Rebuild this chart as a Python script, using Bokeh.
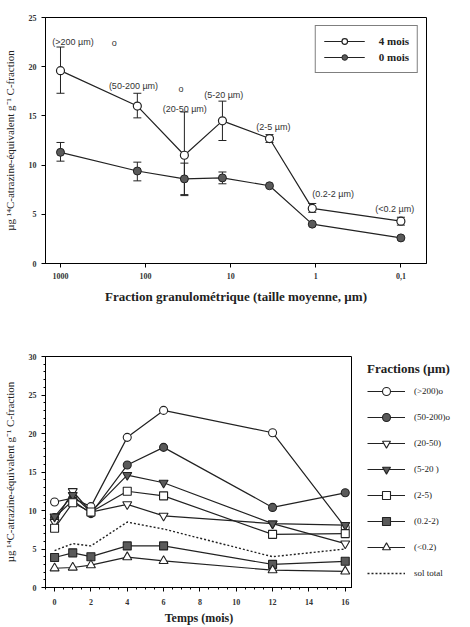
from bokeh.plotting import figure
from bokeh.models import (Range1d, FixedTicker, Whisker, TeeHead, ColumnDataSource,
                          Legend, LegendItem)
from bokeh.layouts import row
from bokeh.embed import file_html
from bokeh.resources import INLINE
from bokeh.core.properties import value

SERIF = "Liberation Serif"
SANS = "Liberation Sans"
INK = "#222222"
FILL = "#5a5a5a"

# ---------------- top chart data ----------------
sizes = [1000, 125, 35, 12.5, 3.5, 1.1, 0.1]
size_ticks = [1000, 100, 10, 1, 0.1]
size_tick_labels = ["1000", "100", "10", "1", "0,1"]

m4 = [19.6, 16.0, 11.0, 14.5, 12.7, 5.6, 4.3]
m4_lo = [17.3, 14.8, 7.0, 12.5, 12.3, 5.2, 3.9]
m4_hi = [22.0, 17.3, 15.4, 16.5, 13.1, 6.1, 4.7]

m0 = [11.3, 9.4, 8.6, 8.7, 7.9, 4.0, 2.6]
m0_err_x = [1000, 125, 35, 12.5]
m0_lo = [10.4, 8.4, 6.9, 8.1]
m0_hi = [12.3, 10.3, 10.2, 9.3]

ann_text = ["(>200 µm)", "o", "(50-200 µm)", "o", "(20-50 µm)", "(5-20 µm)",
            "(2-5 µm)", "(0.2-2 µm)", "(<0.2 µm)"]
ann_x = [1250, 250, 270, 41, 63, 20.5, 5.0, 1.1, 0.2]
ann_y = [22.5, 22.4, 18.0, 17.7, 15.7, 17.1, 13.9, 7.1, 5.5]

# ---------------- bottom chart data ----------------
months = [0, 1, 2, 4, 6, 12, 16]
month_ticks = [0, 2, 4, 6, 8, 10, 12, 14, 16]
conc_ticks = [0, 5, 10, 15, 20, 25, 30]

f_gt200 = [11.1, 11.6, 10.5, 19.5, 23.0, 20.1, 7.8]
f_50_200 = [9.1, 11.3, 9.6, 15.9, 18.2, 10.4, 12.3]
f_20_50 = [8.5, 12.5, 9.8, 10.8, 9.3, 8.3, 5.7]
f_5_20 = [9.2, 12.0, 9.8, 14.6, 13.6, 8.3, 8.1]
f_2_5 = [7.7, 11.0, 9.8, 12.5, 11.9, 6.9, 7.0]
f_02_2 = [3.9, 4.5, 4.0, 5.4, 5.4, 3.0, 3.4]
f_lt02 = [2.5, 2.6, 2.9, 3.95, 3.45, 2.25, 2.1]
sol_total = [4.8, 5.7, 5.4, 8.5, 7.6, 4.0, 5.0]

fraction_labels = ["(>200)o", "(50-200)o", "(20-50)", "(5-20 )", "(2-5)",
                   "(0.2-2)", "(<0.2)", "sol total"]

ylab = "µg ¹⁴C-atrazine-équivalent g⁻¹ C-fraction"


def style_axes(p, minor=False):
    p.outline_line_color = "black"
    p.outline_line_width = 1
    p.xgrid.visible = False
    p.ygrid.visible = False
    for ax in (p.xaxis[0], p.yaxis[0]):
        ax.axis_line_color = "black"
        ax.major_tick_line_color = "black"
        ax.major_tick_in = 0
        ax.major_tick_out = 4
        ax.major_label_text_font = SERIF
        ax.major_label_text_font_size = "8px"
        ax.major_label_text_font_style = "bold"
        ax.major_label_text_color = "#333333"
        ax.axis_label_text_font = SERIF
        ax.axis_label_text_font_style = "bold"
        ax.axis_label_text_color = "#222222"
        if minor:
            ax.minor_tick_line_color = "black"
            ax.minor_tick_in = 0
            ax.minor_tick_out = 2
        else:
            ax.minor_tick_line_color = None
    p.yaxis[0].axis_label_text_font_size = "11px"
    p.yaxis[0].axis_label_text_font_style = "normal"
    p.xaxis[0].axis_label_text_font_size = "13px"


# ---------------- top figure ----------------
p1 = figure(width=454, height=306, x_axis_type="log",
            x_range=Range1d(1500, 0.05), y_range=Range1d(0, 25),
            output_backend="svg", toolbar_location=None,
            min_border_left=41, min_border_right=28, min_border_top=17,
            min_border_bottom=43)
style_axes(p1)
p1.xaxis[0].ticker = FixedTicker(ticks=size_ticks)
p1.xaxis[0].major_label_overrides = {t: l for t, l in zip(size_ticks, size_tick_labels)}
p1.yaxis[0].ticker = FixedTicker(ticks=[0, 5, 10, 15, 20, 25])
p1.xaxis[0].axis_label = "Fraction granulométrique (taille moyenne, µm)"
p1.yaxis[0].axis_label = ylab
p1.xaxis[0].major_label_standoff = 5
p1.xaxis[0].axis_label_standoff = 7
p1.yaxis[0].axis_label_standoff = 10

src4 = ColumnDataSource(dict(x=sizes, y=m4, lo=m4_lo, hi=m4_hi))
src0 = ColumnDataSource(dict(x=sizes, y=m0))
src0e = ColumnDataSource(dict(x=m0_err_x, lo=m0_lo, hi=m0_hi))

for src in (src4, src0e):
    w = Whisker(source=src, base="x", lower="lo", upper="hi", line_color=INK,
                line_width=1,
                upper_head=TeeHead(size=8, line_color=INK, line_width=1),
                lower_head=TeeHead(size=8, line_color=INK, line_width=1))
    p1.add_layout(w)

l4 = p1.line("x", "y", source=src4, line_color=INK, line_width=1.2)
c4 = p1.scatter("x", "y", source=src4, marker="circle", size=8,
                fill_color="white", line_color=INK, line_width=1.2)
l0 = p1.line("x", "y", source=src0, line_color=INK, line_width=1.2)
c0 = p1.scatter("x", "y", source=src0, marker="circle", size=8,
                fill_color=FILL, line_color=INK, line_width=1)

p1.text(x=ann_x, y=ann_y, text=ann_text, text_font=value(SANS),
        text_font_size="9px", text_baseline="middle", text_align="left",
        text_color="#333333")

leg1 = Legend(items=[LegendItem(label="4 mois", renderers=[l4, c4]),
                     LegendItem(label="0 mois", renderers=[l0, c0])],
              location="top_right", margin=8, padding=8, spacing=2,
              glyph_height=14, glyph_width=41, label_standoff=14,
              border_line_color="black", border_line_width=1,
              label_text_font=SERIF, label_text_font_size="11px",
              label_text_font_style="bold", label_text_color="#222222",
              label_height=14)
p1.add_layout(leg1)

# ---------------- bottom figure ----------------
p2 = figure(width=352, height=321, x_range=Range1d(-0.5, 16.4),
            y_range=Range1d(0, 30), output_backend="svg",
            toolbar_location=None, min_border_left=41, min_border_right=0,
            min_border_top=50, min_border_bottom=37)
style_axes(p2, minor=True)
p2.xaxis[0].ticker = FixedTicker(ticks=month_ticks,
                                 minor_ticks=[i * 0.5 for i in range(-1, 33)])
p2.yaxis[0].ticker = FixedTicker(ticks=conc_ticks, minor_ticks=list(range(0, 31)))
p2.xaxis[0].axis_label = "Temps (mois)"
p2.yaxis[0].axis_label = ylab
p2.xaxis[0].axis_label_text_font_size = "12px"
p2.xaxis[0].major_label_standoff = 7
p2.xaxis[0].axis_label_standoff = 3
p2.yaxis[0].axis_label_standoff = 10

# legend panel (separate figure to the right of the bottom chart);
# its copies of the series fall outside its 0..1 ranges and stay unseen
pl = figure(width=102, height=321, x_range=Range1d(0, 1), y_range=Range1d(0, 1),
            output_backend="svg", toolbar_location=None,
            x_axis_location=None, y_axis_location=None,
            min_border_left=0, min_border_right=0,
            min_border_top=50, min_border_bottom=37)
pl.outline_line_color = None
pl.xgrid.visible = False
pl.ygrid.visible = False

series = [f_gt200, f_50_200, f_20_50, f_5_20, f_2_5, f_02_2, f_lt02]
markers = ["circle", "circle", "inverted_triangle", "inverted_triangle",
           "square", "square", "triangle"]
filled = [False, True, False, True, False, True, False]
msize = [8, 8, 9, 9, 8, 8, 9]

items = []
for vals, mk, fl, ms, lab in zip(series, markers, filled, msize, fraction_labels):
    src = ColumnDataSource(dict(x=months, y=vals))
    style = dict(marker=mk, size=ms, fill_color=FILL if fl else "white",
                 line_color=INK, line_width=1.1)
    p2.line("x", "y", source=src, line_color=INK, line_width=1.2)
    p2.scatter("x", "y", source=src, **style)
    lr = pl.line("x", "y", source=src, line_color=INK, line_width=1.2)
    sr = pl.scatter("x", "y", source=src, **style)
    items.append(LegendItem(label=lab, renderers=[lr, sr]))

srct = ColumnDataSource(dict(x=months, y=sol_total))
p2.line("x", "y", source=srct, line_color=INK, line_width=1.4, line_dash="2 2")
lt = pl.line("x", "y", source=srct, line_color=INK, line_width=1.4,
             line_dash="2 2")
items.append(LegendItem(label=fraction_labels[7], renderers=[lt]))

leg2 = Legend(items=items, location=(15, 4), title="Fractions (µm)",
              title_text_font=SERIF, title_text_font_size="13px",
              title_text_font_style="bold", title_text_color="#222222",
              title_standoff=4, padding=0, margin=0, spacing=6,
              glyph_width=38, glyph_height=20, label_height=20,
              label_standoff=9, label_text_font=SERIF,
              label_text_font_size="9px", label_text_color="#222222",
              border_line_alpha=0, background_fill_alpha=0)
pl.add_layout(leg2)

open("out.html", "w").write(file_html([p1, row(p2, pl)], INLINE))
